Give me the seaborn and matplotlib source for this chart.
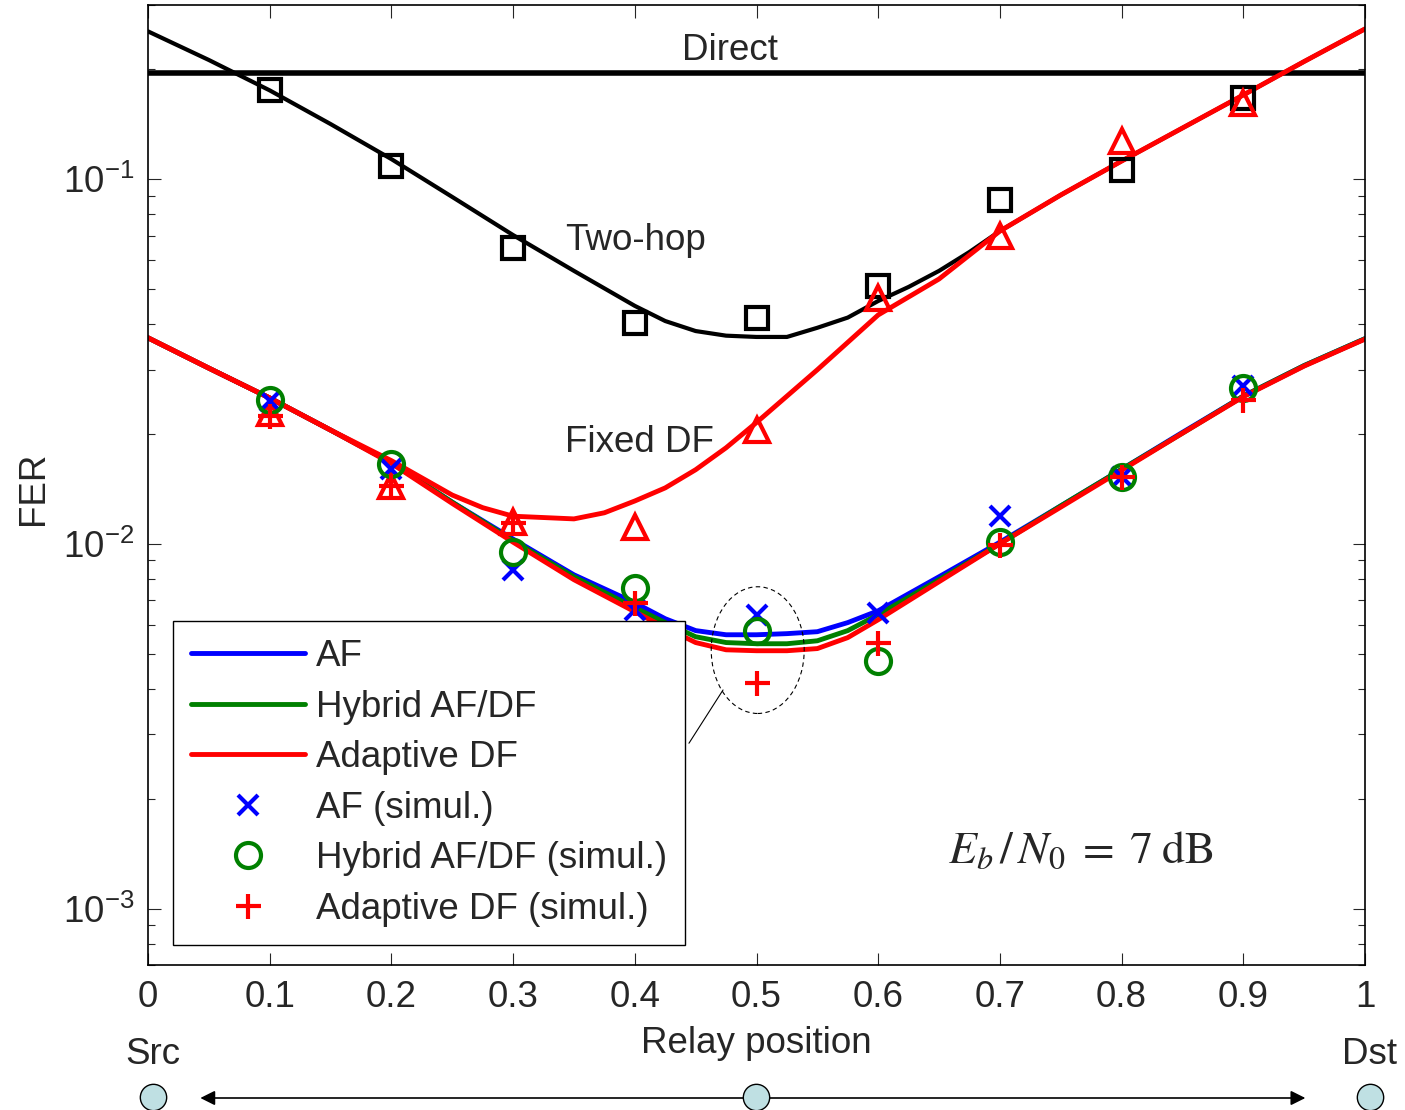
import numpy as np
import pandas as pd
import matplotlib
matplotlib.use("Agg")
import matplotlib.pyplot as plt
import seaborn as sns
from matplotlib.patches import Ellipse

# ---- data ----
# two-hop analytical curve
two_hop_pos = [0.00, 0.05, 0.10, 0.15, 0.20, 0.25, 0.30, 0.35, 0.40, 0.425, 0.45, 0.475, 0.50,
               0.525, 0.55, 0.575, 0.60, 0.625, 0.65, 0.675, 0.70, 0.75, 0.80, 0.85, 0.90, 0.95, 1.00]
two_hop = [0.254, 0.212, 0.175, 0.1415, 0.1134, 0.0893, 0.0702, 0.0560, 0.0449, 0.0408, 0.0383, 0.0372,
           0.0369, 0.0369, 0.0391, 0.0417, 0.0463, 0.0506, 0.0560, 0.0631, 0.072, 0.0904, 0.112, 0.138,
           0.170, 0.210, 0.258]

# fixed DF analytical curve
fixed_df_pos = [0.00, 0.05, 0.10, 0.15, 0.20, 0.25, 0.275, 0.30, 0.325, 0.35, 0.375, 0.40, 0.425,
                0.45, 0.475, 0.50, 0.55, 0.60, 0.65, 0.70, 0.75, 0.80, 0.85, 0.90, 0.95, 1.00]
fixed_df = [0.0367, 0.0303, 0.0251, 0.0205, 0.0169, 0.0136, 0.01256, 0.0119, 0.0118, 0.0117, 0.01216,
            0.0131, 0.01423, 0.01596, 0.01833, 0.0215, 0.0300, 0.0424, 0.0532, 0.072, 0.0904, 0.112,
            0.138, 0.170, 0.210, 0.258]

# AF / hybrid / adaptive DF analytical curves
relay_pos = [0.00, 0.05, 0.10, 0.15, 0.20, 0.25, 0.30, 0.35, 0.40, 0.425, 0.45, 0.475, 0.50,
             0.525, 0.55, 0.575, 0.60, 0.65, 0.70, 0.75, 0.80, 0.85, 0.90, 0.95, 1.00]
af = [0.0367, 0.0303, 0.0251, 0.0205, 0.0167, 0.0130, 0.0103, 0.00822, 0.00689, 0.00623, 0.00578,
      0.00563, 0.00563, 0.00567, 0.00574, 0.00608, 0.00655, 0.00812, 0.0101, 0.0127, 0.0160, 0.0202,
      0.0254, 0.0308, 0.0365]
hybrid = [0.0367, 0.0303, 0.0251, 0.0205, 0.0167, 0.0130, 0.0102, 0.00812, 0.00668, 0.00608, 0.00556,
          0.00536, 0.00532, 0.00532, 0.00542, 0.00578, 0.00639, 0.00797, 0.0100, 0.0127, 0.0160, 0.0201,
          0.0254, 0.0308, 0.0365]
adaptive = [0.0367, 0.0303, 0.0251, 0.0205, 0.0166, 0.0129, 0.0101, 0.00797, 0.00651, 0.00589, 0.00536,
            0.00512, 0.00509, 0.00509, 0.00516, 0.00553, 0.00619, 0.00787, 0.0100, 0.0126, 0.0159,
            0.0201, 0.0253, 0.0307, 0.0364]
direct_fer = 0.195

# simulation points
sim_pos = [0.1, 0.2, 0.3, 0.4, 0.5, 0.6, 0.7, 0.8, 0.9]
two_hop_sim = [0.175, 0.1085, 0.0647, 0.0403, 0.0416, 0.0509, 0.0876, 0.1058, 0.1667]
fixed_df_sim = [0.0229, 0.0144, 0.0115, 0.0111, 0.0205, 0.0472, 0.0698, 0.127, 0.1615]
af_sim = [0.0246, 0.0160, 0.00849, 0.00659, 0.00639, 0.00647, 0.0119, 0.0152, 0.0271]
hybrid_sim = [0.0248, 0.0165, 0.0095, 0.00758, 0.00578, 0.00478, 0.0101, 0.0152, 0.0268]
adaptive_sim = [0.0224, 0.0144, 0.0114, 0.00686, 0.00416, 0.00536, 0.00994, 0.0152, 0.0248]

x_ticks = [0, 0.1, 0.2, 0.3, 0.4, 0.5, 0.6, 0.7, 0.8, 0.9, 1]
x_tick_labels = ['0', '0.1', '0.2', '0.3', '0.4', '0.5', '0.6', '0.7', '0.8', '0.9', '1']

sns.set_style('ticks')
plt.rcParams['font.family'] = ['Liberation Sans', 'DejaVu Sans']
plt.rcParams['axes.unicode_minus'] = False
FS = 26.5

fig = plt.figure(figsize=(14.05, 11.10), dpi=100)
ax = fig.add_axes([148 / 1405, 145 / 1110, 1217 / 1405, 960 / 1110])

curves = pd.DataFrame({'pos': relay_pos, 'af': af, 'hybrid': hybrid, 'adaptive': adaptive})
th = pd.DataFrame({'pos': two_hop_pos, 'fer': two_hop})
fd = pd.DataFrame({'pos': fixed_df_pos, 'fer': fixed_df})
sims = pd.DataFrame({'pos': sim_pos, 'two_hop': two_hop_sim, 'fixed_df': fixed_df_sim,
                     'af': af_sim, 'hybrid': hybrid_sim, 'adaptive': adaptive_sim})

# direct link
sns.lineplot(x=[0, 1], y=[direct_fer, direct_fer], color='k', lw=4, ax=ax, label='_nolegend_')

# analytical curves
sns.lineplot(data=th, x='pos', y='fer', color='k', lw=3, ax=ax, label='_nolegend_')
sns.lineplot(data=curves, x='pos', y='af', color='#0000ff', lw=3.5, ax=ax, label='AF')
sns.lineplot(data=curves, x='pos', y='hybrid', color='#008000', lw=3.5, ax=ax, label='Hybrid AF/DF')
sns.lineplot(data=curves, x='pos', y='adaptive', color='#ff0000', lw=3.5, ax=ax, label='Adaptive DF')
sns.lineplot(data=fd, x='pos', y='fer', color='#ff0000', lw=3.5, ax=ax, label='_nolegend_')

# simulation markers
mk = dict(linestyle='', mew=3, ax=ax)
sns.lineplot(data=sims, x='pos', y='two_hop', marker='s', ms=16, mfc='none', mec='k',
             color='k', label='_nolegend_', **mk)
sns.lineplot(data=sims, x='pos', y='fixed_df', marker='^', ms=17, mfc='none', mec='#ff0000',
             color='#ff0000', label='_nolegend_', **mk)
sns.lineplot(data=sims, x='pos', y='af', marker='x', ms=14, mec='#0000ff',
             color='#0000ff', label='AF (simul.)', **mk)
sns.lineplot(data=sims, x='pos', y='hybrid', marker='o', ms=18, mfc='none', mec='#008000',
             color='#008000', label='Hybrid AF/DF (simul.)', **mk)
sns.lineplot(data=sims, x='pos', y='adaptive', marker='+', ms=18, mec='#ff0000',
             color='#ff0000', label='Adaptive DF (simul.)', **mk)

ax.set_yscale('log')
ax.set_xlim(0, 1)
ax.set_ylim(7e-4, 0.3)
ax.set_xticks(x_ticks)
ax.set_xticklabels(x_tick_labels)
ax.tick_params(which='both', direction='in', top=True, right=True, labelsize=FS, width=0.8)
ax.tick_params(which='major', length=9, pad=11)
ax.tick_params(axis='y', which='major', pad=10)
ax.tick_params(which='minor', length=5)
ax.minorticks_off()
ax.yaxis.set_minor_locator(matplotlib.ticker.LogLocator(base=10, subs=np.arange(2, 10), numticks=20))
ax.yaxis.set_minor_formatter(matplotlib.ticker.NullFormatter())
for s in ax.spines.values():
    s.set_linewidth(1.2)
    s.set_color('k')

ax.set_xlabel('Relay position', fontsize=FS)
ax.set_ylabel('FER', fontsize=FS)
ax.xaxis.set_label_coords(0.5, -0.064)
ax.yaxis.set_label_coords(-0.080, 0.497)

ax.text(0.478, 0.2256, 'Direct', fontsize=FS, ha='center', va='center')
ax.text(0.343, 0.068, 'Two-hop', fontsize=FS, ha='left', va='center')
ax.text(0.343, 0.0189, 'Fixed DF', fontsize=FS, ha='left', va='center')
ax.text(0.657, 0.00144, r'$E_b\,/\,N_0\; =\; 7\;\mathrm{dB}$', fontsize=33,
        ha='left', va='center', math_fontfamily='stix')

# dashed ellipse around the 0.5 simulation points, with a leader line to the legend
ax.add_patch(Ellipse((0.501, 0.328), 0.0764, 0.132, transform=ax.transAxes,
                     fill=False, ls=(0, (4, 3)), lw=0.8, color='k', zorder=5))
ax.plot([0.4445, 0.4725], [0.231, 0.2865], transform=ax.transAxes, color='k', lw=0.8, zorder=5)

handles, labels = ax.get_legend_handles_labels()
leg = ax.legend(handles, labels, loc='lower left', bbox_to_anchor=(0.0205, 0.0208),
                borderaxespad=0, fontsize=FS, handlelength=3.1, handletextpad=0.28,
                borderpad=0.5, labelspacing=0.42, fancybox=False, framealpha=1,
                edgecolor='k', numpoints=1)
leg.get_frame().set_linewidth(1.0)
leg.set_zorder(10)

# source / relay / destination sketch below the axis
sketch = fig.add_axes([0, 0, 1, 1])
sketch.set_xlim(-148 / 1217, (1405 - 148) / 1217)
sketch.set_ylim(1110, 0)
sketch.axis('off')
sketch.annotate('', xy=(0.951, 1098), xytext=(0.043, 1098),
                arrowprops=dict(arrowstyle='<|-|>', color='k', lw=1.2, mutation_scale=22,
                                shrinkA=0, shrinkB=0))
sketch.scatter([0.004, 0.5, 1.004], [1097, 1097, 1097], s=360, facecolor='#bfe0e3',
               edgecolor='k', linewidth=1.0, zorder=5, clip_on=False)
sketch.text(0.004, 1055, 'Src', fontsize=FS, ha='center', va='center')
sketch.text(1.004, 1055, 'Dst', fontsize=FS, ha='center', va='center')

fig.savefig('out.png', dpi=100)
plt.close(fig)
